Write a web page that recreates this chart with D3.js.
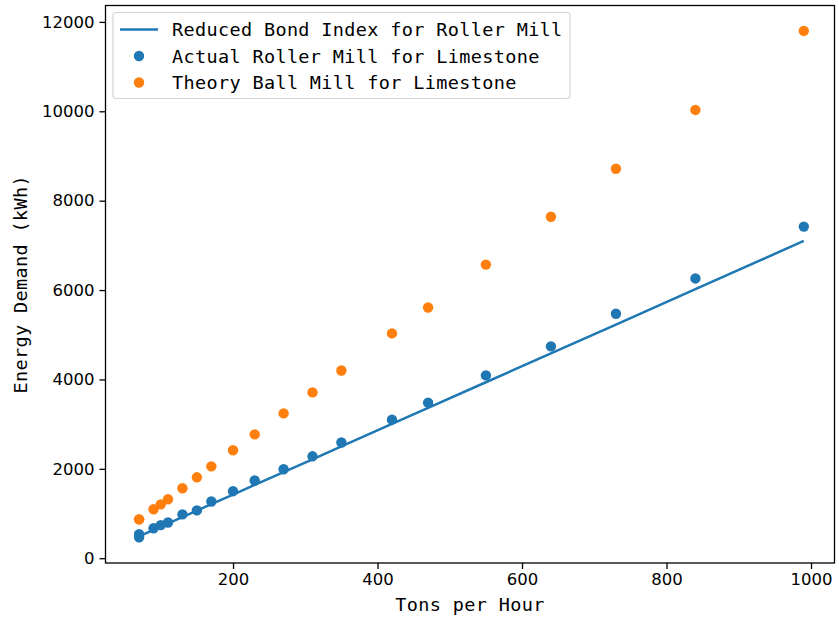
<!DOCTYPE html>
<html lang="en">
<meta charset="utf-8">
<head>
  <style>
    body { margin: 0; background: #fff; }
    .tick text { font: 16.5px "DejaVu Sans", sans-serif; fill: #000; }
    .axis path, .axis line { stroke: #000; }
    .lbl { font: 18.5px "DejaVu Sans Mono", monospace; letter-spacing: 0.35px; fill: #000; }
  </style>
  <title></title>
</head>
<body>
<script src="https://d3js.org/d3.v7.min.js"></script>
<script>
  // tons per hour
  const tph = [70, 70, 90, 100, 110, 130, 150, 170, 200, 230, 270, 310, 350, 420, 470, 550, 640, 730, 840, 990];
  // actual roller mill, limestone (kWh)
  const rollerActual = [540, 470, 670, 740, 800, 980, 1070, 1270, 1500, 1740, 1990, 2280, 2590, 3100, 3480, 4090, 4740, 5470, 6260, 7420];
  // theory ball mill, limestone (kWh)
  const ballTheory = [870, 870, 1095, 1205, 1320, 1565, 1810, 2055, 2415, 2770, 3240, 3710, 4200, 5030, 5610, 6570, 7640, 8715, 10030, 11800];
  // reduced bond index line (kWh)
  const bondLine = [490, 490, 634, 706, 778, 921, 1065, 1209, 1424, 1640, 1927, 2214, 2501, 3004, 3363, 3937, 4583, 5229, 6019, 7100];

  const legendLabels = ["Reduced Bond Index for Roller Mill", "Actual Roller Mill for Limestone", "Theory Ball Mill for Limestone"];
  const xTicks = [200, 400, 600, 800, 1000];
  const yTicks = [0, 2000, 4000, 6000, 8000, 10000, 12000];

  const blue = "#1f77b4", orange = "#ff7f0e";
  const W = 839, H = 618;
  const pL = 105.5, pR = 834.5, pT = 5.5, pB = 563;

  const svg = d3.select("body").append("svg")
      .attr("width", W)
      .attr("height", H);

  const x = d3.scaleLinear().domain([23.5, 1032.5]).range([pL, pR]);
  const y = d3.scaleLinear().domain([-107, 12367]).range([pB, pT]);

  // line
  const line = d3.line()
      .x(function (d, i) { return x(tph[i]); })
      .y(function (d) { return y(d); });

  svg.append("path")
      .datum(bondLine)
      .attr("d", line)
      .attr("fill", "none")
      .attr("stroke", blue)
      .attr("stroke-width", 2.5);

  svg.selectAll("circle.roller")
      .data(rollerActual)
      .enter().append("circle")
      .attr("class", "roller")
      .attr("cx", function (d, i) { return x(tph[i]); })
      .attr("cy", function (d) { return y(d); })
      .attr("r", 5.2)
      .attr("fill", blue);

  svg.selectAll("circle.ball")
      .data(ballTheory)
      .enter().append("circle")
      .attr("class", "ball")
      .attr("cx", function (d, i) { return x(tph[i]); })
      .attr("cy", function (d) { return y(d); })
      .attr("r", 5.2)
      .attr("fill", orange);

  // axes
  svg.append("g")
      .attr("class", "x axis")
      .attr("transform", "translate(0," + pB + ")")
      .call(d3.axisBottom(x).tickValues(xTicks).tickFormat(d3.format("d")).tickSize(6).tickPadding(4).tickSizeOuter(0))
      .call(function (g) { g.select(".domain").remove(); });

  svg.append("g")
      .attr("class", "y axis")
      .attr("transform", "translate(" + pL + ",0)")
      .call(d3.axisLeft(y).tickValues(yTicks).tickFormat(d3.format("d")).tickSize(6).tickPadding(5).tickSizeOuter(0))
      .call(function (g) { g.select(".domain").remove(); });

  svg.selectAll(".tick line").attr("stroke-width", 1.3);

  // frame
  svg.append("rect")
      .attr("x", pL).attr("y", pT)
      .attr("width", pR - pL).attr("height", pB - pT)
      .attr("fill", "none")
      .attr("stroke", "#000")
      .attr("stroke-width", 1.3);

  // axis labels
  svg.append("text")
      .attr("class", "lbl")
      .attr("x", (pL + pR) / 2)
      .attr("y", 611)
      .attr("text-anchor", "middle")
      .text("Tons per Hour");

  svg.append("text")
      .attr("class", "lbl")
      .attr("transform", "translate(27," + ((pT + pB) / 2) + ") rotate(-90)")
      .attr("text-anchor", "middle")
      .text("Energy Demand (kWh)");

  // legend
  const lg = svg.append("g");
  lg.append("rect")
      .attr("x", 113).attr("y", 12.5)
      .attr("width", 457).attr("height", 86)
      .attr("rx", 3)
      .attr("fill", "#fff")
      .attr("fill-opacity", 0.8)
      .attr("stroke", "#d5d5d5")
      .attr("stroke-width", 1.2);

  const rowY = [29.5, 56, 82.5];
  lg.append("line")
      .attr("x1", 120).attr("x2", 158)
      .attr("y1", rowY[0]).attr("y2", rowY[0])
      .attr("stroke", blue).attr("stroke-width", 2.5);
  lg.append("circle").attr("cx", 139).attr("cy", rowY[1]).attr("r", 5.2).attr("fill", blue);
  lg.append("circle").attr("cx", 139).attr("cy", rowY[2]).attr("r", 5.2).attr("fill", orange);

  lg.selectAll("text")
      .data(legendLabels)
      .enter().append("text")
      .attr("class", "lbl")
      .attr("x", 172)
      .attr("y", function (d, i) { return rowY[i] + 6.5; })
      .text(function (d) { return d; });
</script>
</body>
</html>
